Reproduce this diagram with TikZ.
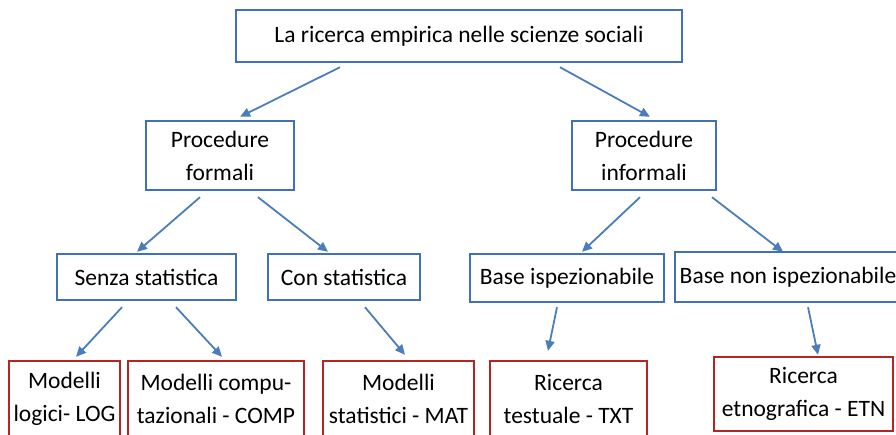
\documentclass[tikz,border=0pt]{standalone}
\usepackage{fontspec}
\setmainfont{Carlito}
\usetikzlibrary{arrows.meta}
\definecolor{boxblue}{RGB}{65,113,181}
\definecolor{arrowblue}{RGB}{74,126,187}
\definecolor{boxred}{RGB}{180,38,38}
\tikzset{
    topbox/.style={rectangle,draw=boxblue,line width=2.4pt,inner sep=0pt,align=center,font=\fontsize{23.5}{33}\selectfont},
    endbox/.style={rectangle,draw=boxred,line width=2.4pt,inner sep=0pt,align=center,font=\fontsize{23.5}{33}\selectfont},
    directed/.style={draw=arrowblue,line width=1.8pt,arrows={-Triangle[length=10pt,width=9pt]}},
    }
\begin{document}
\begin{tikzpicture}[x=1pt,y=-1pt]
    \useasboundingbox (0,0) rectangle (896,434);
    \clip (0,0) rectangle (896,434);
		\node[topbox,minimum width=446,minimum height=52] (top) at (459,36) {La ricerca empirica nelle scienze sociali};
		\node[topbox,minimum width=148,minimum height=69] (pf) at (220,155.5) {Procedure\\formali};
		\node[topbox,minimum width=144,minimum height=69] (pi) at (644,155.5) {Procedure\\informali};
		\node[topbox,minimum width=179,minimum height=46] (senza) at (146.5,277) {Senza statistica};
		\node[topbox,minimum width=152,minimum height=46] (con) at (344,277) {Con statistica};
		\node[topbox,minimum width=194,minimum height=48] (bisp) at (567,278) {Base ispezionabile};
		\node[topbox,minimum width=226,minimum height=50] (bnon) at (788,277) {Base non ispezionabile};
		\node[endbox,minimum width=111,minimum height=76] (log) at (64.5,399) {Modelli\\logici- LOG};
		\node[endbox,minimum width=176,minimum height=76] (comp) at (216,399) {Modelli compu-\\tazionali - COMP};
		\node[endbox,minimum width=151,minimum height=76] (mat) at (398.5,399) {Modelli\\statistici - MAT};
		\node[endbox,minimum width=157,minimum height=76] (txt) at (568.5,399) {Ricerca\\testuale - TXT};
		\node[endbox,minimum width=179,minimum height=74] (etn) at (803.5,394) {Ricerca\\etnografica - ETN};

	\draw[directed] ([shift={(-119,4)}]top.south) to ([shift={(20,-3)}]pf.north);
	\draw[directed] ([shift={(101,4)}]top.south) to ([shift={(6,-3)}]pi.north);
	\draw[directed] ([shift={(-20,6)}]pf.south) to ([shift={(-9.5,-1)}]senza.north);
	\draw[directed] ([shift={(38,6)}]pf.south) to ([shift={(-16,-1)}]con.north);
	\draw[directed] ([shift={(-4,6)}]pi.south) to ([shift={(15,-1)}]bisp.north);
	\draw[directed] ([shift={(68,6)}]pi.south) to ([shift={(-5,1)}]bnon.north);
	\draw[directed] ([shift={(-24.5,6)}]senza.south) to ([shift={(11.5,-3)}]log.north);
	\draw[directed] ([shift={(29.5,6)}]senza.south) to ([shift={(6,-3)}]comp.north);
	\draw[directed] ([shift={(21,6)}]con.south) to ([shift={(6.5,-5)}]mat.north);
	\draw[directed] ([shift={(-10,4)}]bisp.south) to ([shift={(-20.5,-9)}]txt.north);
	\draw[directed] ([shift={(20,4)}]bnon.south) to ([shift={(14.5,-1)}]etn.north);
\end{tikzpicture}
\end{document}
